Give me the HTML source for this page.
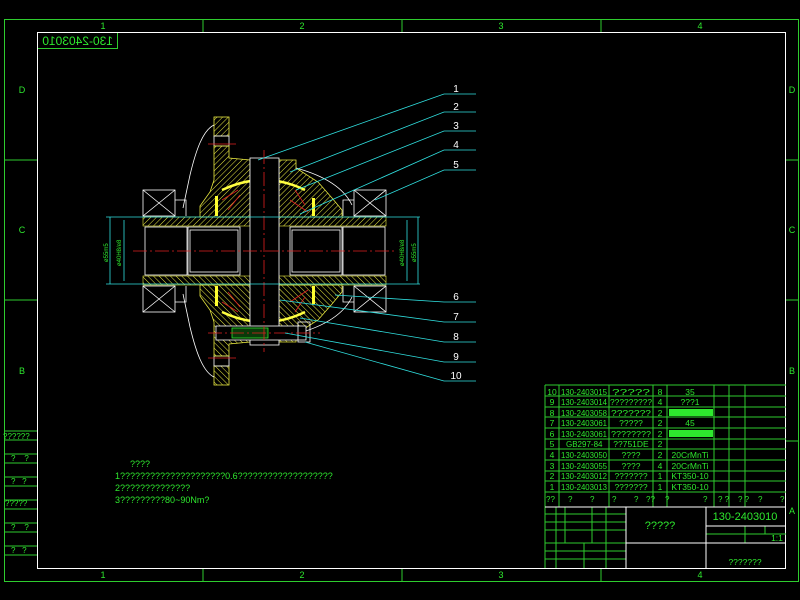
<!DOCTYPE html>
<html><head><meta charset="utf-8"><style>
html,body{margin:0;padding:0;background:#000;width:800px;height:600px;overflow:hidden}
svg{display:block}
text{font-family:"Liberation Sans Narrow","Liberation Sans",sans-serif;fill:#2ee82e}
</style></head><body>
<svg width="800" height="600" viewBox="0 0 800 600" xmlns="http://www.w3.org/2000/svg">
<defs>
<pattern id="h" width="4" height="4" patternUnits="userSpaceOnUse" patternTransform="rotate(45)">
<line x1="0" y1="0" x2="0" y2="4" stroke="#e8e840" stroke-width="1"/>
</pattern>
</defs>
<rect width="800" height="600" fill="#000"/>
<g stroke="#2ecc2e" stroke-width="1" fill="none">
<rect x="4.5" y="19.5" width="794" height="562"/>
<line x1="203" y1="19" x2="203" y2="32"/><line x1="402" y1="19" x2="402" y2="32"/><line x1="601" y1="19" x2="601" y2="32"/>
<line x1="203" y1="568" x2="203" y2="581"/><line x1="402" y1="568" x2="402" y2="581"/><line x1="601" y1="568" x2="601" y2="581"/>
<line x1="4" y1="160" x2="37" y2="160"/><line x1="4" y1="300" x2="37" y2="300"/><line x1="4" y1="440" x2="37" y2="440"/>
<line x1="785" y1="160" x2="799" y2="160"/><line x1="785" y1="300" x2="799" y2="300"/><line x1="785" y1="441" x2="799" y2="441"/>
<rect x="37.5" y="32.5" width="80" height="16"/>
</g>
<rect x="37.5" y="32.5" width="748" height="536" fill="none" stroke="#fff" stroke-width="1"/>
<g font-size="9" text-anchor="middle">
<text x="103" y="29">1</text><text x="302" y="29">2</text><text x="501" y="29">3</text><text x="700" y="29">4</text>
<text x="103" y="578">1</text><text x="302" y="578">2</text><text x="501" y="578">3</text><text x="700" y="578">4</text>
<text x="22" y="93">D</text><text x="22" y="233">C</text><text x="22" y="374">B</text>
<text x="792" y="93">D</text><text x="792" y="233">C</text><text x="792" y="374">B</text><text x="792" y="514">A</text>
</g>
<text x="-113" y="45" font-size="12" transform="scale(-1,1)">130-2403010</text>
<g stroke="#2ecc2e" fill="none">
<line x1="4" y1="431" x2="37" y2="431"/><line x1="4" y1="440" x2="37" y2="440"/>
<line x1="4" y1="454" x2="37" y2="454"/><line x1="4" y1="463" x2="37" y2="463"/>
<line x1="4" y1="477" x2="37" y2="477"/><line x1="4" y1="486" x2="37" y2="486"/>
<line x1="4" y1="500" x2="37" y2="500"/><line x1="4" y1="509" x2="37" y2="509"/>
<line x1="4" y1="523" x2="37" y2="523"/><line x1="4" y1="532" x2="37" y2="532"/>
<line x1="4" y1="546" x2="37" y2="546"/><line x1="4" y1="555" x2="37" y2="555"/>
</g>
<g font-size="8"><text x="3" y="439">??????</text><text x="11" y="461">?&#160;&#160;&#160;&#160;?</text><text x="11" y="484">?&#160;&#160;&#160;?</text><text x="5" y="506">?????</text><text x="11" y="530">?&#160;&#160;&#160;&#160;?</text><text x="11" y="553">?&#160;&#160;&#160;?</text></g>
<g font-size="9"><text x="130" y="467">????</text>
<text x="115" y="479">1?????????????????????0.6???????????????????</text>
<text x="115" y="491">2??????????????</text>
<text x="115" y="503">3?????????80~90Nm?</text></g>

<g id="upper">
<rect x="214" y="117" width="15" height="19" fill="url(#h)" stroke="#e8e840" stroke-width="0.8"/>
<rect x="214" y="136" width="15" height="10" fill="none" stroke="#fff" stroke-width="0.8"/>
<polygon points="214,146 229,146 229,158 250,160 250,217 200,217 200,206 210,192 214,180" fill="url(#h)" stroke="#e8e840" stroke-width="0.8"/>
<polygon points="279,160 296,160 296,168 318,182 332,198 342,210 342,217 279,217" fill="url(#h)" stroke="#e8e840" stroke-width="0.8"/>
<path d="M214,125 C203,130 196,150 190,175 L183,208" fill="none" stroke="#fff" stroke-width="0.8"/>
<path d="M296,168 Q340,180 352,205" fill="none" stroke="#fff" stroke-width="0.8"/>
<path d="M222,190 Q264,170 305,190" fill="none" stroke="#ffff40" stroke-width="2.5"/>
<rect x="215" y="196" width="3" height="20" fill="#ffff30"/>
<rect x="312" y="198" width="3" height="18" fill="#ffff30"/>
<g stroke="#e02020" stroke-width="0.8"><line x1="222" y1="200" x2="238" y2="190"/><line x1="228" y1="210" x2="240" y2="195"/><line x1="295" y1="190" x2="305" y2="205"/><line x1="290" y1="200" x2="308" y2="212"/><line x1="208" y1="144" x2="236" y2="144"/></g>
<g stroke="#fff" stroke-width="0.8" fill="none">
<rect x="143" y="190" width="32" height="26"/><line x1="143" y1="190" x2="175" y2="216"/><line x1="175" y1="190" x2="143" y2="216"/>
<polyline points="175,200 186,200 186,216"/>
<rect x="354" y="190" width="32" height="26"/><line x1="354" y1="190" x2="386" y2="216"/><line x1="386" y1="190" x2="354" y2="216"/>
<polyline points="354,200 343,200 343,216"/>
</g>
<rect x="143" y="217" width="107" height="9" fill="url(#h)" stroke="#e8e840" stroke-width="0.6"/>
<rect x="279" y="217" width="107" height="9" fill="url(#h)" stroke="#e8e840" stroke-width="0.6"/>
</g>
<use href="#upper" transform="translate(0,502) scale(1,-1)"/>
<g stroke="#fff" stroke-width="0.8" fill="#000">
<rect x="145" y="227" width="42" height="48"/>
<rect x="188" y="227" width="52" height="48"/><rect x="190" y="230" width="48" height="42"/>
<rect x="290" y="227" width="52" height="48"/><rect x="292" y="230" width="48" height="42"/>
<rect x="343" y="227" width="42" height="48"/>
<rect x="250" y="158" width="29" height="187"/>
</g>
<rect x="216" y="326" width="90" height="14" fill="#000" stroke="#fff" stroke-width="0.8"/>
<rect x="232" y="328" width="36" height="10" fill="#0a3a0a" stroke="#2ee82e" stroke-width="0.8"/>
<rect x="298" y="322" width="12" height="20" fill="none" stroke="#fff" stroke-width="0.8"/>
<g stroke="#e02020" stroke-width="0.8" stroke-dasharray="14,3,2,3">
<line x1="133" y1="251" x2="397" y2="251"/><line x1="264" y1="150" x2="264" y2="352"/><line x1="208" y1="333" x2="320" y2="333"/>
</g>
<g stroke="#30e0e0" stroke-width="0.8">
<line x1="106" y1="217" x2="420" y2="217"/><line x1="106" y1="284" x2="420" y2="284"/>
<line x1="110" y1="217" x2="110" y2="284"/><line x1="124" y1="220" x2="124" y2="281"/>
<line x1="407" y1="220" x2="407" y2="281"/><line x1="418" y1="217" x2="418" y2="284"/>
</g>
<g font-size="6" fill="#2ee82e">
<text transform="translate(108,262) rotate(-90)">ø55m5</text><text transform="translate(121,266) rotate(-90)">ø40H8/e8</text>
<text transform="translate(404,266) rotate(-90)">ø40H8/e8</text><text transform="translate(416,262) rotate(-90)">ø55m5</text>
</g>
<g stroke="#30e0e0" stroke-width="0.8" fill="none">
<polyline points="258,160 444,94 476,94"/><polyline points="290,172 444,112 476,112"/><polyline points="296,190 444,131 476,131"/>
<polyline points="300,214 444,150 476,150"/><polyline points="375,200 444,170 476,170"/>
<polyline points="335,295 444,302 476,302"/><polyline points="280,300 444,322 476,322"/><polyline points="300,318 444,342 476,342"/>
<polyline points="285,333 444,362 476,362"/><polyline points="305,342 444,381 476,381"/>
</g>
<g font-size="10" text-anchor="middle"><text x="456" y="92" style="fill:#fff">1</text><text x="456" y="110" style="fill:#fff">2</text><text x="456" y="129" style="fill:#fff">3</text><text x="456" y="148" style="fill:#fff">4</text><text x="456" y="168" style="fill:#fff">5</text><text x="456" y="300" style="fill:#fff">6</text><text x="456" y="320" style="fill:#fff">7</text><text x="456" y="340" style="fill:#fff">8</text><text x="456" y="360" style="fill:#fff">9</text><text x="456" y="379" style="fill:#fff">10</text></g>

<g stroke="#2ecc2e" stroke-width="1" fill="none">
<line x1="545" y1="385" x2="786" y2="385"/>
<line x1="545" y1="396" x2="786" y2="396"/><line x1="545" y1="407" x2="786" y2="407"/><line x1="545" y1="417" x2="786" y2="417"/>
<line x1="545" y1="428" x2="786" y2="428"/><line x1="545" y1="439" x2="786" y2="439"/><line x1="545" y1="449" x2="786" y2="449"/>
<line x1="545" y1="460" x2="786" y2="460"/><line x1="545" y1="471" x2="786" y2="471"/><line x1="545" y1="481" x2="786" y2="481"/>
<line x1="545" y1="492" x2="786" y2="492"/>
<line x1="545" y1="385" x2="545" y2="568"/><line x1="559" y1="385" x2="559" y2="507"/><line x1="609" y1="385" x2="609" y2="507"/>
<line x1="653" y1="385" x2="653" y2="507"/><line x1="667" y1="385" x2="667" y2="507"/><line x1="714" y1="385" x2="714" y2="507"/>
<line x1="729" y1="385" x2="729" y2="507"/><line x1="745" y1="385" x2="745" y2="507"/>
<line x1="545" y1="514" x2="626" y2="514"/><line x1="545" y1="522" x2="626" y2="522"/><line x1="545" y1="530" x2="626" y2="530"/>
<line x1="545" y1="543" x2="626" y2="543"/><line x1="545" y1="551" x2="626" y2="551"/><line x1="545" y1="559" x2="626" y2="559"/>
<line x1="556" y1="507" x2="556" y2="568"/><line x1="565" y1="507" x2="565" y2="543"/><line x1="592" y1="507" x2="592" y2="543"/>
<line x1="584" y1="543" x2="584" y2="568"/><line x1="606" y1="507" x2="606" y2="568"/>
<line x1="706" y1="534" x2="786" y2="534"/><line x1="706" y1="543" x2="786" y2="543"/>
<line x1="745" y1="526" x2="745" y2="543"/><line x1="765" y1="526" x2="765" y2="534"/>
</g>
<g stroke="#fff" stroke-width="1" fill="none">
<line x1="545" y1="507" x2="786" y2="507"/><line x1="626" y1="507" x2="626" y2="568"/><line x1="706" y1="507" x2="706" y2="568"/>
<line x1="626" y1="543" x2="706" y2="543"/><line x1="706" y1="526" x2="786" y2="526"/><line x1="706" y1="543" x2="786" y2="543"/>
</g>
<g font-size="8.5">
<g text-anchor="middle">
<text x="552" y="395">10</text><text x="552" y="405">9</text><text x="552" y="416">8</text><text x="552" y="426">7</text><text x="552" y="437">6</text><text x="552" y="447">5</text><text x="552" y="458">4</text><text x="552" y="469">3</text><text x="552" y="479">2</text><text x="552" y="490">1</text>
<text x="660" y="395">8</text><text x="660" y="405">4</text><text x="660" y="416">2</text><text x="660" y="426">2</text><text x="660" y="437">2</text><text x="660" y="447">2</text><text x="660" y="458">2</text><text x="660" y="469">4</text><text x="660" y="479">1</text><text x="660" y="490">1</text>
<text x="631" y="395" textLength="38" lengthAdjust="spacingAndGlyphs">?????</text><text x="631" y="405" textLength="42" lengthAdjust="spacingAndGlyphs">?????????</text><text x="631" y="416" textLength="40" lengthAdjust="spacingAndGlyphs">???????</text><text x="631" y="426">?????</text><text x="631" y="437" textLength="40" lengthAdjust="spacingAndGlyphs">????????</text><text x="631" y="447">??751DE</text><text x="631" y="458">????</text><text x="631" y="469">????</text><text x="631" y="479">???????</text><text x="631" y="490">???????</text>
<text x="690" y="395">35</text><text x="690" y="405">???1</text><text x="690" y="426">45</text><text x="690" y="458">20CrMnTi</text><text x="690" y="469">20CrMnTi</text><text x="690" y="479">KT350-10</text><text x="690" y="490">KT350-10</text>
<text x="660" y="529" font-size="11">?????</text><text x="745" y="520" font-size="11">130-2403010</text><text x="745" y="565">???????</text><text x="777" y="541">1:1</text>
</g>
<g font-size="8"><text x="561" y="395" textLength="46" lengthAdjust="spacingAndGlyphs">130-2403015</text><text x="561" y="405" textLength="46" lengthAdjust="spacingAndGlyphs">130-2403014</text><text x="561" y="416" textLength="46" lengthAdjust="spacingAndGlyphs">130-2403058</text><text x="561" y="426" textLength="46" lengthAdjust="spacingAndGlyphs">130-2403061</text><text x="561" y="437" textLength="46" lengthAdjust="spacingAndGlyphs">130-2403061</text><text x="566" y="447">GB297-84</text><text x="561" y="458" textLength="46" lengthAdjust="spacingAndGlyphs">130-2403050</text><text x="561" y="469" textLength="46" lengthAdjust="spacingAndGlyphs">130-2403055</text><text x="561" y="479" textLength="46" lengthAdjust="spacingAndGlyphs">130-2403012</text><text x="561" y="490" textLength="46" lengthAdjust="spacingAndGlyphs">130-2403013</text>
<text x="546" y="502">??</text><text x="568" y="502">?</text><text x="590" y="502">?</text><text x="612" y="502">?</text><text x="634" y="502">?</text><text x="646" y="502">??</text><text x="665" y="502">?</text><text x="703" y="502">?</text><text x="718" y="502">? ?</text><text x="738" y="502">? ?</text><text x="758" y="502">?</text><text x="780" y="502">?</text></g>
</g>
<rect x="669" y="409" width="44" height="7" fill="#2ee82e"/>
<rect x="669" y="430" width="44" height="7" fill="#2ee82e"/>
</svg>
</body></html>
